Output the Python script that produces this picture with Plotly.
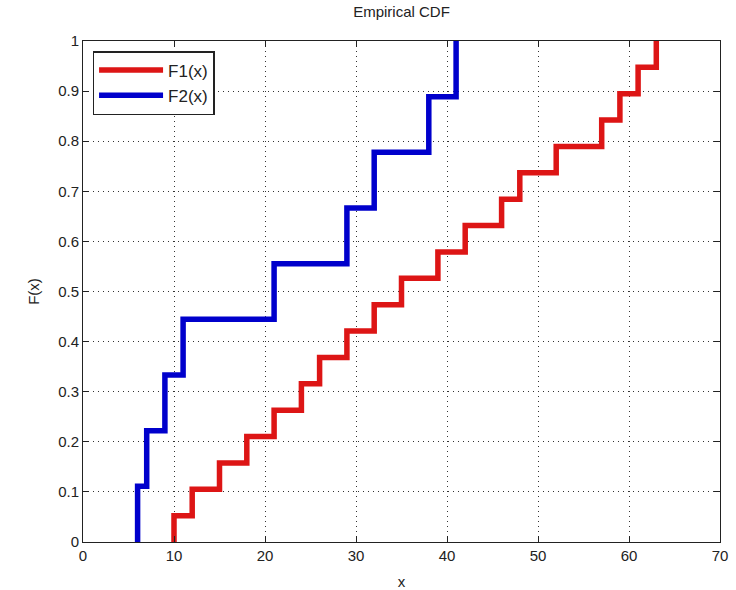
import numpy as np
import plotly.graph_objects as go

sample1 = [10, 12, 15, 18, 21, 24, 26, 29, 32, 35, 39, 42, 46, 48, 52, 57, 59, 61, 63]
sample2 = [6, 7, 9, 11, 21, 29, 32, 38, 41]
names = ["F1(x)", "F2(x)"]
colors = ["#dd1515", "#0000cc"]
x_ticks = [0, 10, 20, 30, 40, 50, 60, 70]
y_ticks = [0, 0.1, 0.2, 0.3, 0.4, 0.5, 0.6, 0.7, 0.8, 0.9, 1]
y_tick_text = ["0", "0.1", "0.2", "0.3", "0.4", "0.5", "0.6", "0.7", "0.8", "0.9", "1"]


def ecdf(sample):
    s = np.sort(np.asarray(sample, dtype=float))
    n = len(s)
    xs = np.concatenate([[s[0]], s])
    ys = np.concatenate([[0.0], np.arange(1, n + 1) / n])
    return xs, ys


fig = go.Figure()
for sample, name, color in zip([sample1, sample2], names, colors):
    xs, ys = ecdf(sample)
    fig.add_trace(go.Scatter(x=xs, y=ys, mode="lines", name=name,
                             line=dict(color=color, width=5.5, shape="hv")))

font_family = "Liberation Sans, Arial, sans-serif"
axis_common = dict(
    showline=True, linecolor="#222", linewidth=1, mirror="ticks",
    ticks="inside", ticklen=6, tickcolor="#222",
    showgrid=True, gridcolor="#333", griddash="1px,4px", gridwidth=1.3,
    zeroline=False, automargin=False,
    tickfont=dict(family=font_family, size=15, color="#222"),
)

fig.update_xaxes(range=[0, 70], tickvals=x_ticks, **axis_common,
                 title=dict(text="x", font=dict(family=font_family, size=15, color="#222"), standoff=14))
fig.update_yaxes(range=[0, 1], tickvals=y_ticks, ticktext=y_tick_text, **axis_common,
                 title=dict(text="F(x)", font=dict(family=font_family, size=15, color="#222"), standoff=14))

fig.update_layout(
    width=736, height=590,
    margin=dict(l=83, r=16, t=41, b=48),
    paper_bgcolor="white", plot_bgcolor="white",
    title=dict(text="Empirical CDF", x=0.5 * (83 + 720) / 736, xanchor="center",
               y=1 - 12 / 590, yanchor="middle",
               font=dict(family=font_family, size=15, color="#222")),
    legend=dict(x=0.015, y=0.98, xanchor="left", yanchor="top",
                bordercolor="#222", borderwidth=1.5, bgcolor="white",
                font=dict(family=font_family, size=17, color="#222"),
                itemwidth=64, tracegroupgap=0),
    showlegend=True,
)

fig.write_html("out.html")
